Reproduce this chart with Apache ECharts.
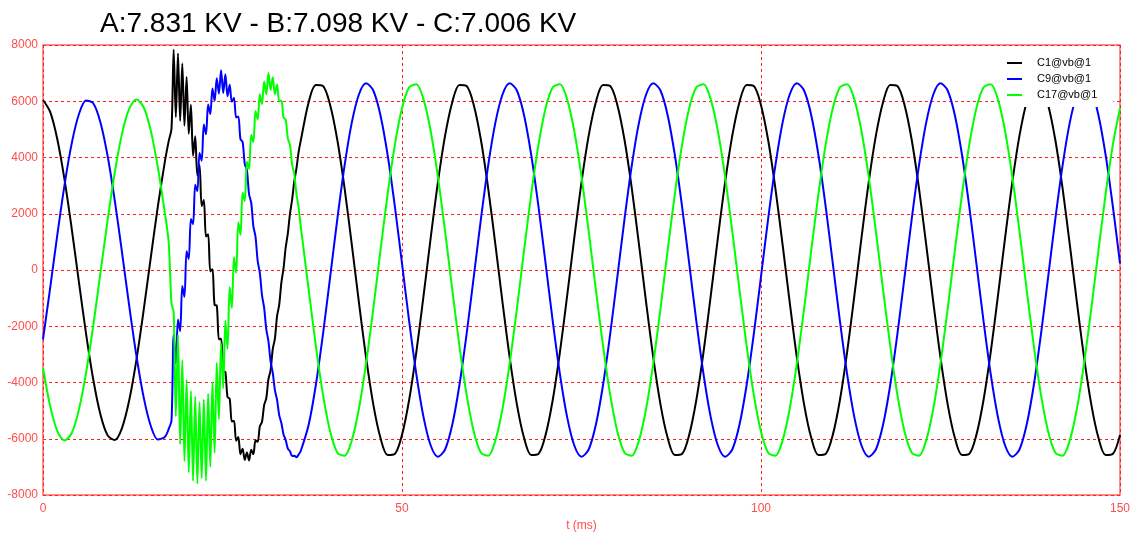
<!DOCTYPE html>
<html><head><meta charset="utf-8">
<script src="https://cdn.jsdelivr.net/npm/echarts@6/dist/echarts.min.js"></script>
<style>html,body{margin:0;padding:0;background:#fff}#c{width:1133px;height:537px}</style>
</head><body><div id="c"></div>
<script>
const titleText = 'A:7.831 KV - B:7.098 KV - C:7.006 KV';
const seriesNames = ['C1@vb@1', 'C9@vb@1', 'C17@vb@1'];
const xTicks = [0, 50, 100, 150];
const yTicks = [-8000, -6000, -4000, -2000, 0, 2000, 4000, 6000, 8000];

const times = [0,1,2,3,4,5,6,7,8,9,10,11,12,13,14,15,16,17,17.5,17.9,
18.2,18.5,18.8,19.1,19.4,19.7,20,20.3,20.6,20.9,21.2,21.5,21.8,22.1,22.4,22.7,23,23.3,23.6,23.9,
24.2,24.5,24.8,25.1,25.4,25.7,26,26.3,26.6,26.9,27.2,27.5,27.8,28.1,28.4,28.7,29,29.3,29.6,29.9,
30.2,30.5,30.8,31.1,31.4,31.7,32,32.3,32.6,32.9,33.2,33.5,33.8,34.1,34.4,34.7,35,35.3,35.6,35.9,
37,38,39,40,41,42,43,44,45,46,47,48,49,50,51,52,53,54,55,56,57,58,59,60,61,62,63,64,65,66,67,68,69,
70,71,72,73,74,75,76,77,78,79,80,81,82,83,84,85,86,87,88,89,90,91,92,93,94,95,96,97,98,99,100,
101,102,103,104,105,106,107,108,109,110,111,112,113,114,115,116,117,118,119,120,121,122,123,124,125,
126,127,128,129,130,131,132,133,134,135,136,137,138,139,140,141,142,143,144,145,146,147,148,149,150];

const c1 = [6045,5619,4642,3211,1466,-423,-2270,-3895,-5139,-5880,-6045,-5619,-4642,-3211,-1466,423,2270,3895,4574,5036,
7831,5440,7700,5300,7343,5130,6862,4843,5874,4060,4753,3359,3730,2272,2490,1189,1274,-49,26,-1247,
-1261,-2462,-2443,-3600,-3627,-4521,-4576,-5389,-5356,-6074,-5939,-6550,-6355,-6751,-6489,-6769,-6389,-6552,-6057,-6108,
-5555,-5403,-4803,-4560,-3877,-3559,-2811,-2436,-1641,-1230,-449,56,800,1298,2003,2512,3157,3615,4191,4599,
5968,6576,6539,
5862,4613,2911,924,-1153,-3117,-4776,-5968,-6576,-6539,-5862,-4613,-2911,-924,1153,3117,4776,5968,6576,6539,
5862,4613,2911,924,-1153,-3117,-4776,-5968,-6576,-6539,-5862,-4613,-2911,-924,1153,3117,4776,5968,6576,6539,
5862,4613,2911,924,-1153,-3117,-4776,-5968,-6576,-6539,-5862,-4613,-2911,-924,1153,3117,4776,5968,6576,6539,
5862,4613,2911,924,-1153,-3117,-4776,-5968,-6576,-6539,-5862,-4613,-2911,-924,1153,3117,4776,5968,6576,6539,
5862,4613,2911,924,-1153,-3117,-4776,-5968,-6576,-6539,-5862,-4613,-2911,-924,1153,3117,4776,5968,6576,6539,
5862,4613,2911,924,-1153,-3117,-4776,-5968,-6576,-6539,-5862];

const c9 = [-2465,-633,1260,3030,4503,5536,6027,5927,5248,4055,2465,633,-1260,-3030,-4503,-5536,-6027,-5927,-5657,-5341,
-2300,-3319,-1758,-2174,-571,-955,668,394,1816,1629,3028,2806,4160,3884,5174,4825,5882,5544,6456,6015,
6820,6268,7098,6290,6963,6177,6583,5983,6127,5419,5461,4656,4558,3772,3550,2698,2391,1554,1182,320,
-105,-889,-1346,-2110,-2535,-3259,-3653,-4274,-4619,-5161,-5439,-5847,-6045,-6348,-6445,-6615,-6606,-6658,-6562,-6437,
-5505,-4088,-2271,
-232,1830,3713,5232,6240,6636,6383,5505,4088,2271,232,-1830,-3713,-5232,-6240,-6636,-6383,-5505,-4088,-2271,
-232,1830,3713,5232,6240,6636,6383,5505,4088,2271,232,-1830,-3713,-5232,-6240,-6636,-6383,-5505,-4088,-2271,
-232,1830,3713,5232,6240,6636,6383,5505,4088,2271,232,-1830,-3713,-5232,-6240,-6636,-6383,-5505,-4088,-2271,
-232,1830,3713,5232,6240,6636,6383,5505,4088,2271,232,-1830,-3713,-5232,-6240,-6636,-6383,-5505,-4088,-2271,
-232,1830,3713,5232,6240,6636,6383,5505,4088,2271,232,-1830,-3713,-5232,-6240,-6636,-6383,-5505,-4088,-2271,
-232,1830,3713,5232,6240,6636,6383,5505,4088,2271,232];

const c17 = [-3476,-4840,-5730,-6059,-5795,-4964,-3647,-1973,-106,1772,3476,4840,5730,6059,5795,4964,3647,1973,1000,-1200,
-1500,-5200,-2300,-6200,-3200,-6800,-3900,-7200,-4300,-7500,-4500,-7600,-4700,-7400,-4600,-7500,-4400,-7000,-4000,-6500,
-3300,-5300,-2600,-4200,-1800,-2800,-600,-1350,450,-100,1700,1250,2750,2450,3850,3600,4800,4550,5650,5350,
6250,5900,6700,6250,7006,6400,6850,6250,6600,6000,6030,5420,5350,4680,4440,3750,3400,2700,2230,1550,
-694,-2701,-4443,
-5750,-6495,-6604,-6066,-4934,-3320,-1380,694,2701,4443,5750,6495,6604,6066,4934,3320,1380,-694,-2701,-4443,
-5750,-6495,-6604,-6066,-4934,-3320,-1380,694,2701,4443,5750,6495,6604,6066,4934,3320,1380,-694,-2701,-4443,
-5750,-6495,-6604,-6066,-4934,-3320,-1380,694,2701,4443,5750,6495,6604,6066,4934,3320,1380,-694,-2701,-4443,
-5750,-6495,-6604,-6066,-4934,-3320,-1380,694,2701,4443,5750,6495,6604,6066,4934,3320,1380,-694,-2701,-4443,
-5750,-6495,-6604,-6066,-4934,-3320,-1380,694,2701,4443,5750,6495,6604,6066,4934,3320,1380,-694,-2701,-4443,
-5750,-6495,-6604,-6066,-4934,-3320,-1380,694,2701,4443,5750];

const colors = ['#000000', '#0000ff', '#00ff00'];
const valueSets = [c1, c9, c17];

const FONT = '"Liberation Sans", Arial, sans-serif';
const RED = '#ff4d4d';

const chart = echarts.init(document.getElementById('c'), null, {renderer: 'canvas'});
chart.setOption({
  animation: false,
  backgroundColor: '#fff',
  title: {
    text: titleText, left: 95, top: 5,
    textStyle: {fontFamily: FONT, fontSize: 28, fontWeight: 'normal', color: '#000'}
  },
  legend: {
    data: seriesNames, orient: 'vertical', left: 1002, top: 47,
    backgroundColor: '#fff', padding: [8, 16, 4, 5], itemGap: 0,
    icon: 'rect', itemWidth: 15, itemHeight: 2,
    textStyle: {fontFamily: FONT, fontSize: 11, color: '#000', lineHeight: 16, padding: [0, 0, 0, 10]}
  },
  grid: {left: 43, right: 13, top: 45, bottom: 37, show: true, borderColor: '#ff6666', borderWidth: 1.5, containLabel: false},
  xAxis: {
    type: 'value', min: xTicks[0], max: xTicks[xTicks.length - 1], interval: 50,
    name: 't (ms)', nameLocation: 'middle', nameGap: 25,
    nameTextStyle: {fontFamily: FONT, fontSize: 12, color: RED},
    axisLine: {show: false}, axisTick: {show: false},
    axisLabel: {fontFamily: FONT, fontSize: 12, color: RED, margin: 8, formatter: v => String(v)},
    splitLine: {show: true, lineStyle: {color: '#ff2020', type: [3, 3], width: 1}}
  },
  yAxis: {
    type: 'value', min: yTicks[0], max: yTicks[yTicks.length - 1], interval: 2000,
    axisLine: {show: false}, axisTick: {show: false},
    axisLabel: {fontFamily: FONT, fontSize: 12, color: RED, margin: 5, formatter: v => String(v)},
    splitLine: {show: true, lineStyle: {color: '#ff2020', type: [3, 3], width: 1}}
  },
  series: seriesNames.map((n, i) => ({
    name: n, type: 'line', showSymbol: false, symbol: 'none', smooth: 0.3,
    data: times.map((t, j) => [t, valueSets[i][j]]),
    lineStyle: {color: colors[i], width: 2}, itemStyle: {color: colors[i]},
    emphasis: {disabled: true}
  }))
});
</script></body></html>
